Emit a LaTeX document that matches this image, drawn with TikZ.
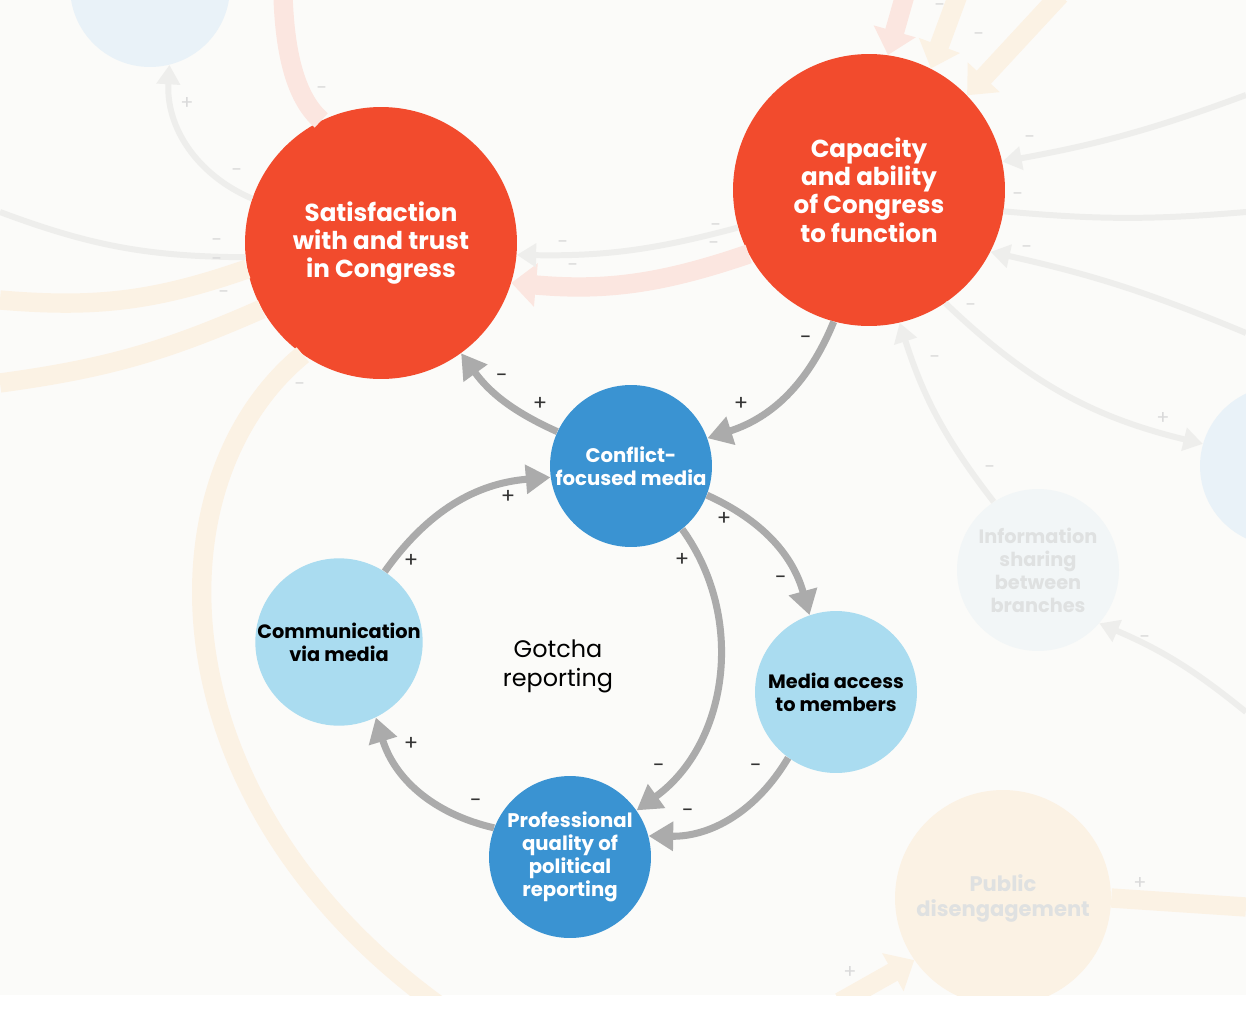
\documentclass[tikz,border=0pt]{standalone}
\usepackage{fontspec}
\setmainfont{Poppins}
\usetikzlibrary{arrows.meta, positioning}
\definecolor{bgpaper}{HTML}{FBFBF9}
\definecolor{congred}{HTML}{F24B2D}
\definecolor{mediablue}{HTML}{3A93D2}
\definecolor{paleblue}{HTML}{AADCF0}
\definecolor{linkgray}{HTML}{ABABAB}
\definecolor{signgray}{HTML}{333333}
\definecolor{fadepeach}{HTML}{FBF2E4}
\definecolor{fadepink}{HTML}{FBE6E0}
\definecolor{fadegray}{HTML}{EEEEEC}
\definecolor{fadeblue}{HTML}{E9F2F8}
\definecolor{fadeinfo}{HTML}{F2F6F7}
\definecolor{fadetext}{HTML}{DFE1E1}
\definecolor{fadesign}{HTML}{DADADA}

\begin{document}
\begin{tikzpicture}[x=0.02cm, y=0.02cm,
    nRed/.style={circle, fill=congred, minimum size=5.44cm, inner sep=0pt, align=center,
        text=white, font=\fontsize{14}{16.2}\selectfont\bfseries},
    nBlue/.style={circle, fill=mediablue, minimum size=3.24cm, inner sep=0pt, align=center,
        text=white, font=\fontsize{11.2}{13.2}\selectfont\bfseries},
    nLight/.style={circle, fill=paleblue, minimum size=3.24cm, inner sep=0pt, align=center,
        text=black, font=\fontsize{11}{13.2}\selectfont\bfseries},
    nFade/.style={circle, fill=fadeblue, minimum size=3.2cm, inner sep=0pt},
    nGhost/.style={circle, inner sep=0pt, align=center, text=fadetext,
        font=\fontsize{11}{13.1}\selectfont\bfseries},
    link/.style={draw=linkgray, line width=4pt, -{Triangle[length=14pt, width=16pt]}},
    fadeLink/.style={draw=fadegray, line width=3.4pt},
    fadeBand/.style={line width=11pt},
    sgn/.style={text=signgray, inner sep=0pt, font=\fontsize{12}{13}\selectfont},
    fsgn/.style={text=fadesign, inner sep=0pt, font=\fontsize{11}{12}\selectfont}]

    % paper
    \fill[bgpaper] (0,0) rectangle (1246,-995);
    \fill[white] (0,-995) rectangle (1246,-1024);
    \useasboundingbox (0,0) rectangle (1246,-1024);

    % main nodes
    \node[nRed] (sat) at (381,-243) {Satisfaction\\with and trust\\in Congress};
    \node[nRed] (cap) at (869,-190) {Capacity\\and ability\\of Congress\\to function};
    \node[nBlue] (conf) at (631,-466) {Conflict-\\focused media};
    \node[nLight] (comm) at (339,-642) {Communication\\via media};
    \node[nLight] (acc) at (836,-692) {Media access\\to members};
    \node[nBlue] (prof) at (570,-857) {Professional\\quality of\\political\\reporting};
    \node[align=center, font=\fontsize{13.6}{16.4}\selectfont] (gotcha) at (558,-666) {Gotcha\\reporting};

    % faded surroundings
    \begin{scope}
    \clip (0,0) rectangle (1246,-995);
    \coordinate (edgeL1) at (0,-212);
    \coordinate (edgeL2) at (0,-300);
    \coordinate (edgeL3) at (0,-383);
    \coordinate (bigEnd) at (445,-1010);
    \coordinate (pinkTop) at (283,5);
    \coordinate (topA) at (905,5);
    \coordinate (topB) at (958,5);
    \coordinate (topC) at (1060,5);
    \coordinate (edgeR1) at (1246,-95);
    \coordinate (edgeR2) at (1246,-212);
    \coordinate (edgeR3) at (1246,-333);
    \coordinate (edgeR4) at (1246,-712);
    \coordinate (edgeR5) at (1246,-907);
    \coordinate (edgeB) at (840,-1002);

    \node[nFade] (ftl) at (150,13) {};
    \node[nFade] (frt) at (1280,-466) {};
    \node[nGhost, fill=fadeinfo, minimum size=3.24cm] (info) at (1038,-570)
        {Information\\sharing\\between\\branches};
    \node[nGhost, fill=fadepeach, minimum size=4.32cm, font=\fontsize{12}{14.2}\selectfont\bfseries]
        (pub) at (1003,-898) {Public\\disengagement};

    \draw[fadeBand, fadepeach] (sat.235) .. controls (150,-480) and (150,-800) .. (bigEnd);
    \draw[fadeBand, fadepeach] (edgeL2) to[bend right=12] (sat.191);
    \draw[fadeBand, fadepeach] (edgeL3) to[bend right=8] (sat.209);
    \draw[fadeBand, fadepink] (pinkTop) .. controls (285,-60) and (298,-100) .. (sat.116);
    \draw[fadeBand, fadepink, -{Triangle[length=14pt, width=24pt]}] (cap.208) to[bend left=12] (sat.-17);
    \draw[fadeBand, fadepink, -{Triangle[length=14pt, width=24pt]}] (topA) -- (cap.82);
    \draw[fadeBand, fadepeach, -{Triangle[length=14pt, width=24pt]}] (topB) -- (cap.63);
    \draw[fadeBand, fadepeach, -{Triangle[length=14pt, width=24pt]}] (topC) -- (cap.44);
    \draw[fadeBand, fadepeach] (pub.0) -- (edgeR5);
    \draw[fadeBand, fadepeach, -{Triangle[length=14pt, width=24pt]}] (edgeB) -- (pub.215);

    \draw[fadeLink, -{Triangle[length=11pt, width=13pt]}] (sat.161) to[bend left=35] (ftl.-76);
    \draw[fadeLink] (edgeL1) to[bend right=10] (sat.186);
    \draw[fadeLink, -{Triangle[length=11pt, width=13pt]}] (cap.196) to[bend left=8] (sat.-5);
    \draw[fadeLink, -{Triangle[length=11pt, width=13pt]}] (edgeR1) to[bend left=5] (cap.12);
    \draw[fadeLink] (cap.-9) to[bend right=5] (edgeR2);
    \draw[fadeLink, -{Triangle[length=11pt, width=13pt]}] (edgeR3) to[bend right=5] (cap.-27);
    \draw[fadeLink, -{Triangle[length=11pt, width=13pt]}] (cap.-56) to[bend right=15] (frt.164);
    \draw[fadeLink, -{Triangle[length=11pt, width=13pt]}] (info.123) to[bend left=10] (cap.-77);
    \draw[fadeLink, -{Triangle[length=11pt, width=13pt]}] (edgeR4) to[bend right=8] (info.-41);

    \foreach \x/\y/\s [count=\k] in {187/103/+, 322/91/-, 237/173/-, 217/243/-, 217/262/-,
            224/295/-, 300/387/-, 563/245/-, 573/268/-, 716/228/-, 714/246/-, 940/8/-,
            979/37/-, 1030/140/-, 1018/197/-, 1027/250/-, 971/308/-, 935/360/-,
            1163/418/+, 990/470/-, 1145/640/-, 1140/883/+, 850/972/+}
        \node[fsgn] (fs\k) at (\x,-\y) {\s};
    \end{scope}

    % loop connectors
    \foreach \a/\b/\bend in {conf.155/sat.-54/15, cap.-105/conf.20/25, comm.57/conf.188/25,
            conf.-21/acc.109/25, conf.-51/prof.35/45, acc.-126/prof.15/30, prof.159/comm.-64/30}
        \draw[link] (\a) to[bend left=\bend] (\b);

    % polarity signs
    \foreach \x/\y/\s [count=\k] in {540/404/+, 502/378/-, 806/340/-, 741/404/+, 411/561/+,
            508/497/+, 724/519/+, 781/580/-, 682/560/+, 659/768/-, 756/768/-, 688/813/-,
            476/803/-, 411/744/+}
        \node[sgn] (sg\k) at (\x,-\y) {\s};
\end{tikzpicture}
\end{document}
